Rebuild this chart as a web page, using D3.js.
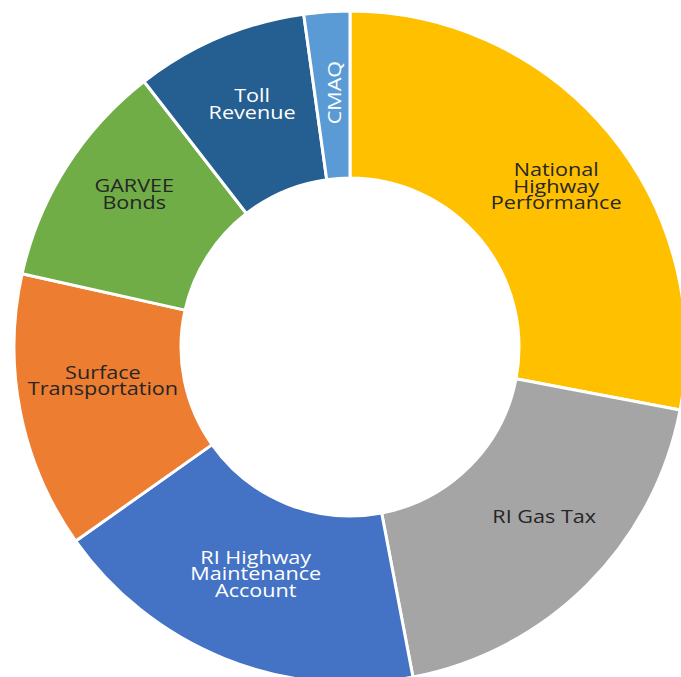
<!DOCTYPE html>
<html>
<head>
<meta charset="utf-8">
<script src="https://cdn.jsdelivr.net/npm/d3@7"></script>
<style>
  html, body { margin: 0; padding: 0; background: #fff; }
  svg { display: block; }
</style>
</head>
<body>
<svg width="681" height="677"></svg>
<script>
// data (share of funding)
var categories = ["National Highway Performance", "RI Gas Tax", "RI Highway Maintenance Account",
                  "Surface Transportation", "GARVEE Bonds", "Toll Revenue", "CMAQ"];
var values = [28.0, 19.0, 18.2, 13.3, 11.0, 8.3, 2.2];
var labelLines = [
  ["National", "Highway", "Performance"],
  ["RI Gas Tax"],
  ["RI Highway", "Maintenance", "Account"],
  ["Surface", "Transportation"],
  ["GARVEE", "Bonds"],
  ["Toll", "Revenue"],
  ["CMAQ"]
];
var colours = ["#FFC000", "#A5A5A5", "#4472C4", "#ED7D31", "#70AD47", "#255E91", "#5B9BD5"];
var textColours = ["#262626", "#262626", "#ffffff", "#262626", "#262626", "#ffffff", "#ffffff"];

// small nudges for the labels, off the arc centroid
var nudge = [[12, 0], [16, -9], [0, -7], [0, -16], [-3, -18], [0, -11], [2, -3]];

var svg = d3.select("svg"),
    width = +svg.attr("width"),
    height = +svg.attr("height");

var cx = 350, cy = 347,
    outer = 336, inner = 169;

var g = svg.append("g").attr("transform", "translate(" + cx + "," + cy + ")");

var pie = d3.pie().sort(null).value(d => d)(values);

var arc = d3.arc().innerRadius(inner).outerRadius(outer);
var labelArc = d3.arc().innerRadius(252).outerRadius(252);

g.selectAll("path")
  .data(pie)
  .enter()
  .append("path")
    .attr("d", arc)
    .attr("fill", (d, i) => colours[i])
    .attr("stroke", "#fff")
    .attr("stroke-width", 3)
    .attr("stroke-linejoin", "round");

var lh = 16.5;

var labels = g.selectAll("g.lbl")
  .data(pie)
  .enter()
  .append("g")
    .attr("class", "lbl")
    .attr("transform", (d, i) => {
      var c = labelArc.centroid(d);
      var rot = i == 6 ? " rotate(-90)" : "";
      return "translate(" + (c[0] + nudge[i][0]) + "," + (c[1] + nudge[i][1]) + ")" + rot + " scale(1.2,1)";
    });

labels.each(function(d, i) {
  var lines = labelLines[i];
  var t = d3.select(this).append("text")
    .attr("text-anchor", "middle")
    .attr("font-family", "'Open Sans', sans-serif")
    .attr("font-size", 18)
    .attr("fill", textColours[i]);
  lines.forEach((s, k) => {
    t.append("tspan")
      .attr("x", 0)
      .attr("y", -(lines.length - 1) * lh / 2 + k * lh + 6.5)
      .text(s);
  });
});
</script>
</body>
</html>
